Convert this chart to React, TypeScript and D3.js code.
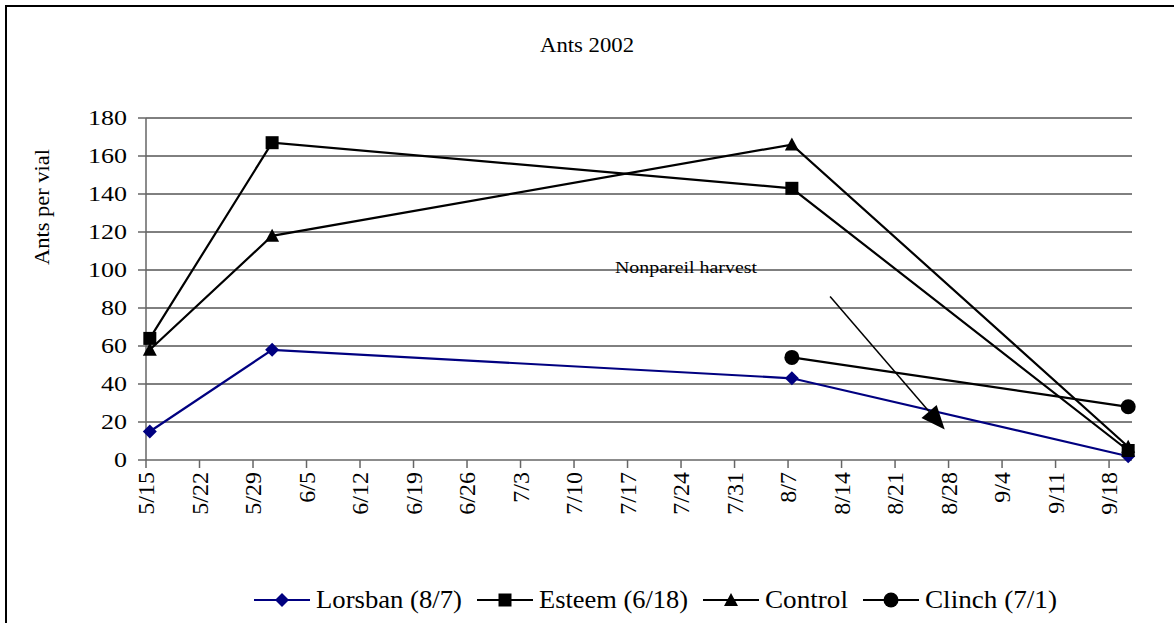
import { useEffect, useRef } from "react";
import * as d3 from "d3";

// sampling dates (2002) and ants per vial for each treatment
const sampleDates = ["5/15", "5/31", "8/7", "9/20"];
const lorsban = [15, 58, 43, 2];
const esteem = [64, 167, 143, 5];
const control = [58, 118, 166, 7];
const clinch = [null, null, 54, 28];

const seriesNames = ["Lorsban (8/7)", "Esteem (6/18)", "Control", "Clinch (7/1)"];
const seriesColors = ["#000080", "#000000", "#000000", "#000000"];
const seriesMarkers = ["diamond", "square", "triangle", "circle"];

const yTicks = [0, 20, 40, 60, 80, 100, 120, 140, 160, 180];
const xTickLabels = [
  "5/15", "5/22", "5/29", "6/5", "6/12", "6/19", "6/26", "7/3", "7/10",
  "7/17", "7/24", "7/31", "8/7", "8/14", "8/21", "8/28", "9/4", "9/11", "9/18",
];

// annotation arrow (data units)
const arrowFrom = { date: "8/12", value: 86 };
const arrowTo = { date: "8/27", value: 16 };

const FONT = "Liberation Serif, serif";

const toDate = (s: string, half = 0) => {
  const [m, d] = s.split("/").map(Number);
  return new Date(Date.UTC(2002, m - 1, d) + half * 12 * 3600 * 1000);
};

const markerPath = (type: string) => {
  if (type === "diamond") return "M0,-7L7,0L0,7L-7,0Z";
  if (type === "square") return "M-6.5,-6.5H6.5V6.5H-6.5Z";
  if (type === "triangle") return "M0,-7L7,6L-7,6Z";
  return d3.symbol(d3.symbolCircle, Math.PI * 7.5 * 7.5)() as string;
};

export default function App() {
  const ref = useRef<SVGSVGElement>(null);

  useEffect(() => {
    const svg = d3.select(ref.current);
    svg.selectAll("*").remove();

    const MARGIN = { left: 146, right: 1132, top: 118, bottom: 460 };

    const x = d3
      .scaleUtc()
      .domain([toDate("5/15"), toDate("9/21")])
      .range([MARGIN.left, MARGIN.right]);
    const y = d3.scaleLinear().domain([0, 180]).range([MARGIN.bottom, MARGIN.top]);

    // outer frame
    svg.append("rect")
      .attr("x", 6).attr("y", 6)
      .attr("width", 1300).attr("height", 800)
      .attr("fill", "white")
      .attr("stroke", "#000")
      .attr("stroke-width", 2);

    // title
    svg.append("text")
      .text("Ants 2002")
      .attr("x", 587).attr("y", 52)
      .attr("text-anchor", "middle")
      .attr("font-family", FONT)
      .attr("font-size", 21)
      .attr("textLength", 94)
      .attr("lengthAdjust", "spacingAndGlyphs");

    // gridlines
    svg.append("g")
      .selectAll("line")
      .data(yTicks.filter((t) => t > 0))
      .join("line")
      .attr("x1", MARGIN.left).attr("x2", MARGIN.right)
      .attr("y1", (d) => y(d)).attr("y2", (d) => y(d))
      .attr("stroke", "#000")
      .attr("stroke-width", 1);

    // y axis
    svg.append("line")
      .attr("x1", MARGIN.left).attr("x2", MARGIN.left)
      .attr("y1", MARGIN.top).attr("y2", MARGIN.bottom)
      .attr("stroke", "#666").attr("stroke-width", 1.5);
    svg.append("g")
      .selectAll("line")
      .data(yTicks)
      .join("line")
      .attr("x1", MARGIN.left - 8).attr("x2", MARGIN.left)
      .attr("y1", (d) => y(d)).attr("y2", (d) => y(d))
      .attr("stroke", "#666").attr("stroke-width", 1.5);
    svg.append("g")
      .selectAll("text")
      .data(yTicks)
      .join("text")
      .text((d) => d)
      .attr("x", 127)
      .attr("y", (d) => y(d))
      .attr("dy", "0.34em")
      .attr("text-anchor", "end")
      .attr("font-family", FONT)
      .attr("font-size", 22)
      .attr("textLength", (d) => String(d).length * 13)
      .attr("lengthAdjust", "spacingAndGlyphs");

    // y label
    svg.append("text")
      .text("Ants per vial")
      .attr("transform", "translate(42,207) rotate(-90)")
      .attr("text-anchor", "middle")
      .attr("dominant-baseline", "central")
      .attr("font-family", FONT)
      .attr("font-size", 20)
      .attr("textLength", 116)
      .attr("lengthAdjust", "spacingAndGlyphs");

    // x axis
    svg.append("line")
      .attr("x1", MARGIN.left).attr("x2", MARGIN.right)
      .attr("y1", MARGIN.bottom).attr("y2", MARGIN.bottom)
      .attr("stroke", "#666").attr("stroke-width", 1.5);
    const xt = svg.append("g")
      .selectAll("g")
      .data(xTickLabels)
      .join("g")
      .attr("transform", (d) => `translate(${x(toDate(d))},0)`);
    xt.append("line")
      .attr("y1", MARGIN.bottom).attr("y2", MARGIN.bottom + 8)
      .attr("stroke", "#666").attr("stroke-width", 1.5);
    xt.append("text")
      .text((d) => d)
      .attr("transform", `translate(0,${MARGIN.bottom + 12}) rotate(-90)`)
      .attr("text-anchor", "end")
      .attr("dominant-baseline", "central")
      .attr("font-family", FONT)
      .attr("font-size", 24);

    // series
    const allSeries = [lorsban, esteem, control, clinch];
    allSeries.forEach((vals, i) => {
      const pts = sampleDates
        .map((d, j) => ({ date: toDate(d, 1), value: vals[j] }))
        .filter((p) => p.value !== null) as { date: Date; value: number }[];
      const line = d3.line<{ date: Date; value: number }>()
        .x((p) => x(p.date))
        .y((p) => y(p.value));
      svg.append("path")
        .attr("d", line(pts))
        .attr("fill", "none")
        .attr("stroke", seriesColors[i])
        .attr("stroke-width", 2.2);
      svg.append("g")
        .selectAll("path")
        .data(pts)
        .join("path")
        .attr("d", markerPath(seriesMarkers[i]))
        .attr("transform", (p) => `translate(${x(p.date)},${y(p.value)})`)
        .attr("fill", seriesColors[i]);
    });

    // annotation
    svg.append("text")
      .text("Nonpareil harvest")
      .attr("x", 615).attr("y", 273)
      .attr("font-family", FONT)
      .attr("font-size", 17)
      .attr("textLength", 142)
      .attr("lengthAdjust", "spacingAndGlyphs");

    const ax1 = x(toDate(arrowFrom.date, 1));
    const ay1 = y(arrowFrom.value);
    const ax2 = x(toDate(arrowTo.date, 1));
    const ay2 = y(arrowTo.value);
    const ang = Math.atan2(ay2 - ay1, ax2 - ax1);
    const headLen = 24;
    const headW = 10;
    const bx = ax2 - headLen * Math.cos(ang);
    const by = ay2 - headLen * Math.sin(ang);
    svg.append("line")
      .attr("x1", ax1).attr("y1", ay1)
      .attr("x2", bx).attr("y2", by)
      .attr("stroke", "#000").attr("stroke-width", 1.5);
    svg.append("path")
      .attr("d", `M${ax2},${ay2}L${bx + headW * Math.sin(ang)},${by - headW * Math.cos(ang)}L${bx - headW * Math.sin(ang)},${by + headW * Math.cos(ang)}Z`)
      .attr("fill", "#000");

    // legend
    const legendY = 600;
    const textWidths = [146, 149, 83, 132];
    let lx = 254;
    seriesNames.forEach((name, i) => {
      const g = svg.append("g").attr("transform", `translate(${lx},${legendY})`);
      g.append("line")
        .attr("x1", 0).attr("x2", 56)
        .attr("stroke", seriesColors[i]).attr("stroke-width", 2.2);
      g.append("path")
        .attr("d", markerPath(seriesMarkers[i]))
        .attr("transform", "translate(28,0)")
        .attr("fill", seriesColors[i]);
      g.append("text")
        .text(name)
        .attr("x", 62)
        .attr("y", 8)
        .attr("font-family", FONT)
        .attr("font-size", 25)
        .attr("textLength", textWidths[i])
        .attr("lengthAdjust", "spacingAndGlyphs");
      lx += 62 + textWidths[i] + 15;
    });
  }, []);

  return (
    <svg
      ref={ref}
      width={1174}
      height={623}
      style={{ position: "absolute", left: 0, top: 0, background: "white" }}
    />
  );
}
